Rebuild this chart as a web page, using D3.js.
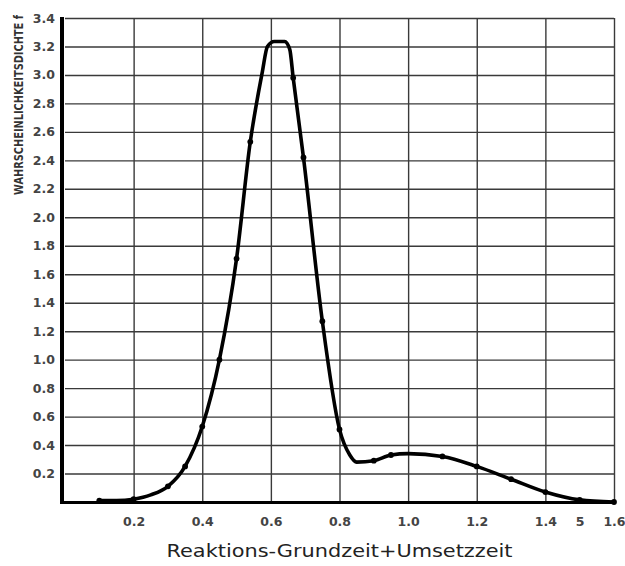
<!DOCTYPE html>
<html>
<head>
<meta charset="utf-8">
<script src="https://cdn.jsdelivr.net/npm/d3@7"></script>
<style>
  html, body { margin: 0; padding: 0; background: #fff; }
  svg { display: block; }
</style>
</head>
<body>
<svg id="chart" width="625" height="566"></svg>
<script>
// ---- data ----
const curveX = [0.10, 0.15, 0.20, 0.25, 0.30, 0.35, 0.40, 0.45, 0.50, 0.54, 0.575, 0.59, 0.61, 0.64, 0.655, 0.665, 0.695, 0.75, 0.80, 0.83, 0.85, 0.90, 0.95, 1.00, 1.10, 1.20, 1.30, 1.40, 1.50, 1.60];
const curveY = [0.01, 0.01, 0.02, 0.05, 0.11, 0.25, 0.53, 1.00, 1.71, 2.53, 3.02, 3.20, 3.235, 3.235, 3.18, 2.98, 2.42, 1.27, 0.51, 0.33, 0.28, 0.29, 0.33, 0.34, 0.32, 0.25, 0.16, 0.07, 0.015, 0.0];
const markedX = [0.10, 0.20, 0.30, 0.35, 0.40, 0.45, 0.50, 0.54, 0.665, 0.695, 0.75, 0.80, 0.90, 0.95, 1.10, 1.20, 1.30, 1.40, 1.50, 1.60];

const xGrid = [0.2, 0.4, 0.6, 0.8, 1.0, 1.2, 1.4, 1.6];
const xTickValues = [0.2, 0.4, 0.6, 0.8, 1.0, 1.2, 1.4, 1.5, 1.6];
const xTickLabels = ["0.2", "0.4", "0.6", "0.8", "1.0", "1.2", "1.4", "5", "1.6"];
const yTickValues = [0.2, 0.4, 0.6, 0.8, 1.0, 1.2, 1.4, 1.6, 1.8, 2.0, 2.2, 2.4, 2.6, 2.8, 3.0, 3.2, 3.4];
const yTickLabels = ["0.2", "0.4", "0.6", "0.8", "1.0", "1.2", "1.4", "1.6", "1.8", "2.0", "2.2", "2.4", "2.6", "2.8", "3.0", "3.2", "3.4"];

const xTitle = "Reaktions-Grundzeit+Umsetzzeit";
const yTitle = "WAHRSCHEINLICHKEITSDICHTE  f";

// ---- layout ----
const svg = d3.select("#chart");
const pLeft = 65, pRight = 614, pTop = 18, pBottom = 502;

const x = d3.scaleLinear().domain([0, 1.6]).range([pLeft, pRight]);
const y = d3.scaleLinear().domain([0, 3.4]).range([pBottom, pTop]);

// grid lines
const gridColor = "#3a3a3a";
svg.append("g")
  .attr("transform", `translate(0,${pBottom})`)
  .call(d3.axisBottom(x).tickValues(xGrid).tickSize(-(pBottom - pTop)).tickFormat(""))
  .call(g => g.select(".domain").remove())
  .call(g => g.selectAll("line").attr("stroke", gridColor).attr("stroke-width", 1.4));

svg.append("g")
  .attr("transform", `translate(${pLeft},0)`)
  .call(d3.axisLeft(y).tickValues(yTickValues).tickSize(-(pRight - pLeft)).tickFormat(""))
  .call(g => g.select(".domain").remove())
  .call(g => g.selectAll("line").attr("stroke", gridColor).attr("stroke-width", 1.4));

// thick axes
svg.append("line")
  .attr("x1", x(0) - 3).attr("x2", x(0) - 3)
  .attr("y1", y(3.4) - 1).attr("y2", y(0) + 1.5)
  .attr("stroke", "#000").attr("stroke-width", 4);
svg.append("line")
  .attr("x1", x(0) - 5).attr("x2", x(1.6) + 1)
  .attr("y1", y(0) + 0.5).attr("y2", y(0) + 0.5)
  .attr("stroke", "#000").attr("stroke-width", 3);

// tick labels
const labelFont = "'DejaVu Sans', sans-serif";
svg.append("g")
  .attr("transform", `translate(0,${pBottom})`)
  .call(d3.axisBottom(x).tickValues(xTickValues).tickSize(0).tickPadding(15)
    .tickFormat((d, i) => xTickLabels[i]))
  .call(g => g.select(".domain").remove())
  .call(g => g.selectAll("text")
    .attr("font-family", labelFont).attr("font-size", 12.5).attr("font-weight", "bold")
    .attr("fill", "#444"));

svg.append("g")
  .attr("transform", `translate(${pLeft - 10},0)`)
  .call(d3.axisLeft(y).tickValues(yTickValues).tickSize(0).tickPadding(0)
    .tickFormat((d, i) => yTickLabels[i]))
  .call(g => g.select(".domain").remove())
  .call(g => g.selectAll("text")
    .attr("font-family", labelFont).attr("font-size", 12.5).attr("font-weight", "bold")
    .attr("fill", "#444"));

// axis titles
svg.append("text")
  .attr("x", (pLeft + pRight) / 2).attr("y", 557)
  .attr("text-anchor", "middle")
  .attr("font-family", "'DejaVu Sans', sans-serif")
  .attr("font-size", 18.5)
  .attr("fill", "#222")
  .attr("textLength", 346).attr("lengthAdjust", "spacingAndGlyphs")
  .text(xTitle);

const yt = svg.append("text")
  .attr("text-anchor", "middle")
  .attr("font-family", "'DejaVu Sans Condensed', 'DejaVu Sans', sans-serif")
  .attr("font-weight", "bold")
  .attr("font-size", 12.5)
  .attr("fill", "#333")
  .text(yTitle);
const natural = yt.node().getComputedTextLength() || 216;
const squeeze = 180 / natural;
yt.attr("transform", `translate(23,${(15 + 195) / 2}) rotate(-90) scale(${squeeze},1)`);

// curve
const pts = curveX.map((d, i) => ({ x: d, y: curveY[i] }));
const line = d3.line().x(d => x(d.x)).y(d => y(d.y)).curve(d3.curveMonotoneX);
svg.append("path")
  .datum(pts)
  .attr("d", line)
  .attr("fill", "none")
  .attr("stroke", "#000")
  .attr("stroke-width", 3.6)
  .attr("stroke-linejoin", "round")
  .attr("stroke-linecap", "round");

// measurement dots
const dots = pts.filter(p => markedX.includes(p.x));
svg.append("g").selectAll("circle")
  .data(dots)
  .join("circle")
  .attr("cx", d => x(d.x)).attr("cy", d => y(d.y))
  .attr("r", 2.9)
  .attr("fill", "#000");
</script>
</body>
</html>
